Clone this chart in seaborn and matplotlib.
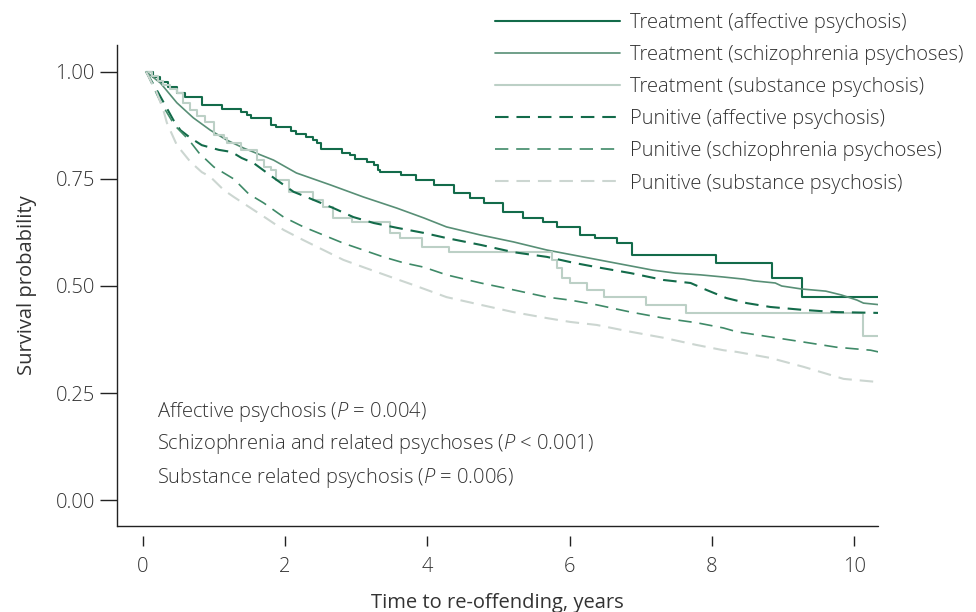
import numpy as np
import pandas as pd
import seaborn as sns
import matplotlib.pyplot as plt

# Kaplan-Meier curves, values (years, survival)
trt_aff_t = [0.0, 0.10, 0.20, 0.30, 0.43, 0.55, 0.78, 1.06, 1.33, 1.41, 1.47, 1.75, 1.83, 2.04, 2.11, 2.24, 2.35,
             2.40, 2.45, 2.75, 2.87, 2.94, 3.10, 3.20, 3.26, 3.29, 3.58, 3.79, 4.04, 4.32, 4.55,
             4.74, 5.02, 5.30, 5.58, 5.77, 6.10, 6.30, 6.61, 6.82, 8.01, 8.79, 9.21, 10.32]
trt_aff_s = [1.0, 0.988, 0.977, 0.965, 0.951, 0.942, 0.923, 0.914, 0.907, 0.900, 0.893, 0.876, 0.871, 0.862, 0.855, 0.848, 0.841,
             0.834, 0.820, 0.811, 0.806, 0.797, 0.790, 0.783, 0.771, 0.766, 0.759, 0.748, 0.736, 0.717, 0.706,
             0.694, 0.673, 0.659, 0.650, 0.638, 0.619, 0.612, 0.600, 0.572, 0.554, 0.519, 0.474, 0.474]

trt_sch_t = [0.0, 0.20, 0.43, 0.66, 0.90, 1.13, 1.37, 1.61, 1.79, 2.11, 2.59, 3.05, 3.52, 3.90, 4.22,
             4.70, 5.16, 5.63, 6.01, 7.12, 7.44, 7.79, 8.11, 8.40, 8.54, 8.84, 8.93, 9.21, 9.55,
             9.77, 9.99, 10.08, 10.32]
trt_sch_s = [1.0, 0.974, 0.928, 0.893, 0.864, 0.841, 0.822, 0.806, 0.794, 0.764, 0.736, 0.708, 0.682, 0.659, 0.638,
             0.619, 0.603, 0.584, 0.572, 0.537, 0.530, 0.526, 0.521, 0.516, 0.512, 0.507, 0.500, 0.493, 0.488,
             0.479, 0.467, 0.460, 0.456]

trt_sub_t = [0.0, 0.08, 0.16, 0.24, 0.33, 0.43, 0.52, 0.62, 0.72, 0.83, 0.95, 1.09, 1.13, 1.33, 1.55, 1.65, 1.75, 1.83, 2.00,
             2.35, 2.49, 2.63, 2.89, 3.43, 3.57, 3.87, 4.25, 5.70, 5.77, 5.84, 5.96, 6.19, 6.43,
             7.02, 7.59, 10.07, 10.32]
trt_sub_s = [1.0, 0.990, 0.980, 0.970, 0.961, 0.951, 0.928, 0.911, 0.897, 0.883, 0.853, 0.846, 0.834, 0.818, 0.794, 0.778, 0.771, 0.748, 0.720,
             0.701, 0.685, 0.659, 0.650, 0.624, 0.612, 0.591, 0.579, 0.561, 0.542, 0.519, 0.507, 0.491, 0.474,
             0.456, 0.437, 0.383, 0.383]

pun_aff_t = [0.0, 0.17, 0.38, 0.48, 0.62, 0.78, 1.02, 1.20, 1.34, 1.51, 1.83, 2.07, 2.25, 2.63, 2.91,
             3.20, 3.52, 3.90, 4.22, 4.70, 5.16, 5.63, 6.01, 6.33, 6.81, 7.27, 7.65, 7.87, 8.15,
             8.44, 8.77, 9.24, 9.70, 10.32]
pun_aff_s = [1.0, 0.951, 0.888, 0.864, 0.846, 0.829, 0.818, 0.813, 0.799, 0.787, 0.748, 0.720, 0.708, 0.682, 0.661,
             0.647, 0.636, 0.624, 0.612, 0.596, 0.579, 0.568, 0.554, 0.544, 0.530, 0.514, 0.507, 0.491, 0.472,
             0.460, 0.451, 0.444, 0.439, 0.437]

pun_sch_t = [0.0, 0.20, 0.40, 0.60, 0.74, 0.95, 1.23, 1.44, 1.65, 1.93, 2.21, 2.49, 2.77, 3.05, 3.33,
             3.62, 3.90, 4.22, 4.70, 5.16, 5.63, 5.96, 6.33, 6.81, 7.27, 7.74, 8.11, 8.30, 8.77,
             9.24, 9.70, 10.18, 10.29]
pun_sch_s = [1.0, 0.930, 0.875, 0.841, 0.811, 0.778, 0.750, 0.715, 0.694, 0.661, 0.638, 0.619, 0.600, 0.584, 0.568,
             0.554, 0.544, 0.526, 0.507, 0.491, 0.474, 0.467, 0.456, 0.439, 0.425, 0.414, 0.402, 0.393, 0.381,
             0.369, 0.357, 0.350, 0.346]

pun_sub_t = [0.0, 0.15, 0.24, 0.29, 0.43, 0.62, 0.78, 0.90, 1.09, 1.23, 1.68, 1.93, 2.21, 2.49, 2.77,
             3.05, 3.47, 3.76, 4.22, 4.70, 5.16, 5.63, 5.96, 6.33, 6.81, 7.27, 7.74, 8.11, 8.30,
             8.77, 9.24, 9.62, 9.80, 10.26]
pun_sub_s = [1.0, 0.951, 0.911, 0.881, 0.829, 0.790, 0.766, 0.755, 0.724, 0.708, 0.659, 0.631, 0.607, 0.584, 0.561,
             0.544, 0.519, 0.502, 0.474, 0.456, 0.439, 0.425, 0.416, 0.409, 0.393, 0.379, 0.362, 0.350, 0.346,
             0.332, 0.311, 0.292, 0.283, 0.276]

x_ticks = [0, 2, 4, 6, 8, 10]
y_ticks = [0.0, 0.25, 0.5, 0.75, 1.0]
annotations = ["Affective psychosis ($\\mathit{P}$ = 0.004)",
               "Schizophrenia and related psychoses ($\\mathit{P}$ < 0.001)",
               "Substance related psychosis ($\\mathit{P}$ = 0.006)"]
annot_y = [0.206, 0.131, 0.052]

sns.set_style("white")
plt.rcParams['font.family'] = ['Open Sans', 'DejaVu Sans']
plt.rcParams['font.weight'] = 'light'
plt.rcParams['mathtext.fontset'] = 'custom'
plt.rcParams['mathtext.rm'] = 'Open Sans:light'
plt.rcParams['mathtext.it'] = 'Open Sans:italic:light'
text_col = "#333333"
fs = 14.5

dark = "#136b4a"
mid = "#588f76"
light = "#bcd0c6"
mid_d = "#3f8a68"
light_d = "#ccd6d1"
dash = (0, (6.5, 3.8))

series = [
    ("Treatment (affective psychosis)", trt_aff_t, trt_aff_s, dark, 1.5, "-", "steps-post"),
    ("Treatment (schizophrenia psychoses)", trt_sch_t, trt_sch_s, mid, 1.2, "-", "default"),
    ("Treatment (substance psychosis)", trt_sub_t, trt_sub_s, light, 1.5, "-", "steps-post"),
    ("Punitive (affective psychosis)", pun_aff_t, pun_aff_s, dark, 1.5, dash, "default"),
    ("Punitive (schizophrenia psychoses)", pun_sch_t, pun_sch_s, mid_d, 1.2, (0, (8, 4.7)), "default"),
    ("Punitive (substance psychosis)", pun_sub_t, pun_sub_s, light_d, 1.5, dash, "default"),
]

fig = plt.figure(figsize=(9.76, 6.12), dpi=100)
ax = fig.add_axes([0.1199, 0.1405, 0.7797, 0.786])

for label, t, s, col, lw, ls, ds in series:
    df = pd.DataFrame({"t": np.array(t) + 0.05, "s": s})
    sns.lineplot(data=df, x="t", y="s", ax=ax, color=col, lw=lw, linestyle=ls,
                 drawstyle=ds, label=label, estimator=None, sort=False)

ax.set_xlim(-0.361, 10.334)
ax.set_ylim(-0.0607, 1.063)
ax.set_xticks(x_ticks)
ax.set_yticks(y_ticks)
ax.set_yticklabels([f"{v:.2f}" for v in y_ticks])
sns.despine(ax=ax)
for sp in ["left", "bottom"]:
    ax.spines[sp].set_color("#222222")
    ax.spines[sp].set_linewidth(1.0)
# ticks on the x axis hang below the axis line with a small gap
ax.spines["bottom"].set_position(("outward", 7))
ax.spines["bottom"].set_color("none")
ax.plot([0, 1], [0, 0], transform=ax.transAxes, color="#222222", lw=1.0, clip_on=False)
ax.tick_params(axis="y", direction="out", length=12, width=1.0, color="#222222",
               labelsize=fs, labelcolor=text_col, pad=4, left=True)
ax.tick_params(axis="x", direction="out", length=7.5, width=1.0, color="#222222",
               labelsize=fs, labelcolor=text_col, pad=8, bottom=True)

ax.set_xlabel("Time to re-offending, years", fontsize=fs, color=text_col, labelpad=11)
ax.set_ylabel("Survival probability", fontsize=fs, color=text_col, labelpad=13)

for txt, yy in zip(annotations, annot_y):
    ax.text(0.2, yy, txt, fontsize=fs, color=text_col, va="center")

handles, labels = ax.get_legend_handles_labels()
ax.legend(handles, labels, loc="upper left", bbox_to_anchor=(0.486, 1.083), frameon=False,
          fontsize=fs, handlelength=6.2, handletextpad=0.5, labelspacing=0.6,
          labelcolor=text_col, borderaxespad=0)

fig.savefig("out.png", dpi=100)
